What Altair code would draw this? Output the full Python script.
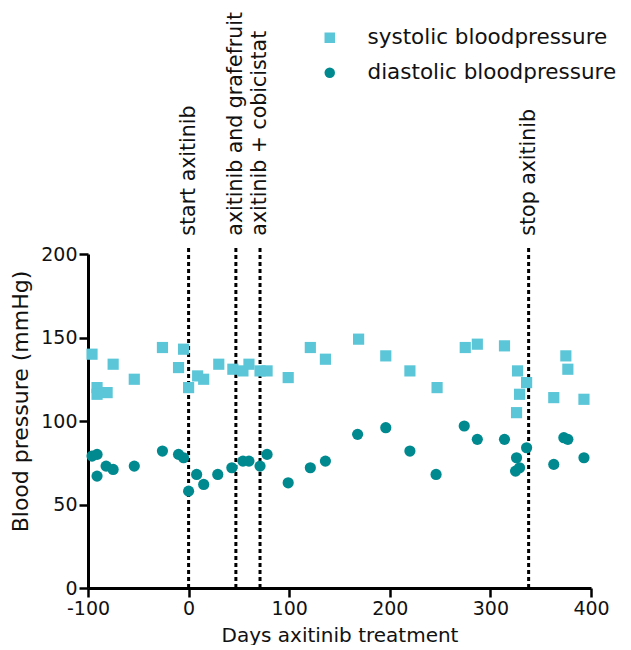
import altair as alt
import pandas as pd

# Systolic readings (day, mmHg)
sys_days = [-96, -91, -91, -81, -75, -54, -26, -10, -5, 0, 9, 15, 30, 44, 54, 60, 71, 78, 99,
            121, 136, 169, 196, 220, 247, 275, 287, 314, 327, 336, 329, 326, 375, 377, 363, 393]
sys_vals = [140, 120, 116, 117, 134, 125, 144, 132, 143, 120, 127, 125, 134, 131, 130, 134, 130, 130, 126,
            144, 137, 149, 139, 130, 120, 144, 146, 145, 130, 123, 116, 105, 139, 131, 114, 113]

# Diastolic readings (day, mmHg)
dia_days = [-96, -91, -91, -82, -75, -54, -26, -10, -5, 0, 8, 15, 29, 43, 54, 60, 71, 78, 99,
            121, 136, 168, 196, 220, 246, 274, 287, 314, 326, 329, 325, 336, 373, 377, 363, 393]
dia_vals = [79, 80, 67, 73, 71, 73, 82, 80, 78, 58, 68, 62, 68, 72, 76, 76, 73, 80, 63,
            72, 76, 92, 96, 82, 68, 97, 89, 89, 78, 72, 70, 84, 90, 89, 74, 78]

series_names = ["systolic bloodpressure", "diastolic bloodpressure"]
series_colors = ["#5BC6D8", "#00898F"]
series_shapes = ["square", "circle"]

event_days = [0, 47, 71, 338]
event_labels = ["start axitinib", "axitinib and grafefruit", "axitinib + cobicistat", "stop axitinib"]

x_ticks = [-100, 0, 100, 200, 300, 400]
y_ticks = [0, 50, 100, 150, 200]

FONT = "DejaVu Sans"

points = pd.DataFrame(
    {"day": sys_days + dia_days,
     "bp": sys_vals + dia_vals,
     "series": [series_names[0]] * len(sys_days) + [series_names[1]] * len(dia_days)}
)
events = pd.DataFrame({"day": event_days, "label": event_labels})

xscale = alt.Scale(domain=[-100, 400], nice=False, zero=False)
yscale = alt.Scale(domain=[0, 200], nice=False)

pts = alt.Chart(points).mark_point(filled=True, size=125, opacity=1).encode(
    x=alt.X("day:Q", scale=xscale,
            axis=alt.Axis(title="Days axitinib treatment", values=x_ticks,
                          labelExpr="'' + datum.value", labelFlush=False)),
    y=alt.Y("bp:Q", scale=yscale,
            axis=alt.Axis(title="Blood pressure (mmHg)", values=y_ticks, titleFontSize=22,
                          titleY=147)),
    color=alt.Color("series:N", sort=series_names,
                    scale=alt.Scale(domain=series_names, range=series_colors),
                    legend=alt.Legend(title=None, orient="none", legendX=231, legendY=-227,
                                      symbolSize=110, labelFontSize=21.5, labelFont=FONT,
                                      labelColor="#111", rowPadding=12, labelOffset=27,
                                      labelLimit=400, symbolStrokeWidth=0)),
    shape=alt.Shape("series:N", sort=series_names,
                    scale=alt.Scale(domain=series_names, range=series_shapes)),
)

rules = alt.Chart(events).mark_rule(color="black", strokeWidth=3, strokeDash=[4, 3]).encode(
    x=alt.X("day:Q", scale=xscale),
    y=alt.Y(datum=0, scale=yscale),
    y2=alt.Y2(datum=204),
)

texts = alt.Chart(events).mark_text(angle=270, align="left", baseline="middle",
                                    fontSize=20.5, font=FONT, color="#111").encode(
    x=alt.X("day:Q", scale=xscale),
    y=alt.Y(datum=211, scale=yscale),
    text="label:N",
)

chart = alt.layer(rules, pts, texts).properties(
    width=503, height=334,
    padding={"left": 1, "top": 4, "right": 0, "bottom": 0},
).configure_view(stroke=None).configure_axis(
    grid=False, domainColor="black", domainWidth=3, tickColor="black", tickWidth=2.5,
    tickSize=9, labelFont=FONT, labelFontSize=19, labelColor="#111", labelPadding=2,
    titleFont=FONT, titleFontSize=20, titleFontWeight="normal", titleColor="#111",
).configure_axisY(titlePadding=8).configure_axisX(titlePadding=7)

chart.save("out.html", embed_options={"renderer": "svg", "actions": False})
